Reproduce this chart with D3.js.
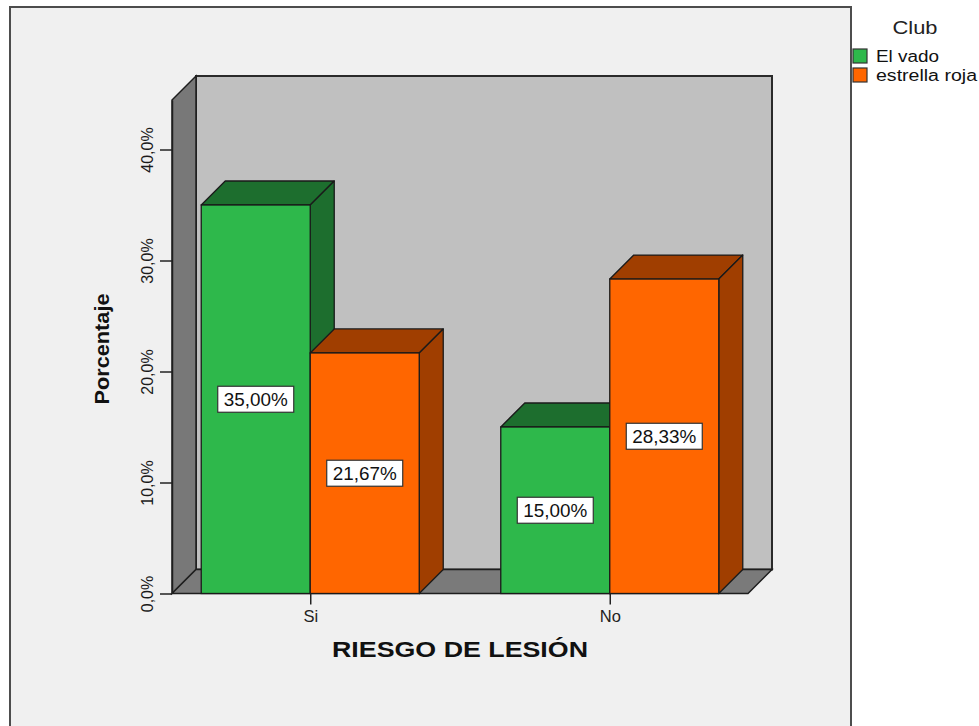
<!DOCTYPE html>
<html>
<head>
<meta charset="utf-8">
<script src="https://cdn.jsdelivr.net/npm/d3@7"></script>
<style>
  html, body { margin: 0; padding: 0; background: #ffffff; }
  svg { display: block; font-family: "Liberation Sans", Arial, sans-serif; }
</style>
</head>
<body>
<svg id="chart" width="979" height="726"></svg>
<script>
const categories = ["Si", "No"];
const seriesNames = ["El vado", "estrella roja"];
const elVado = [35.00, 15.00];
const estrellaRoja = [21.67, 28.33];
const yTicks = [0, 10, 20, 30, 40];
const xTitle = "RIESGO DE LESIÓN";
const yTitle = "Porcentaje";
const legendTitle = "Club";

const seriesValues = [elVado, estrellaRoja];
const frontColors = ["#2eb84b", "#ff6600"];
const darkColors = ["#1d6e2e", "#a03e00"];

const svg = d3.select("#chart");
const D = 24; // depth offset

// frame
svg.append("rect").attr("x", 10).attr("y", 7).attr("width", 841).attr("height", 740)
  .attr("fill", "#f0f0f0").attr("stroke", "#4d4d4d").attr("stroke-width", 2);

const y = d3.scaleLinear().domain([0, 44.46]).range([593.5, 100]);
const x = d3.scalePoint().domain(categories).range([172, 748]).padding(0.4615);
const xs = d3.scaleBand().domain(seriesNames).range([-109, 109]);

const x0 = 172, x1 = 748, yb = y(0), yt = y(44.46);

// back wall
svg.append("rect").attr("x", x0 + D).attr("y", yt - D).attr("width", x1 - x0).attr("height", yb - yt)
  .attr("fill", "#c0c0c0").attr("stroke", "#2a2a2a").attr("stroke-width", 2);
// left wall
svg.append("polygon")
  .attr("points", [[x0, yb], [x0, yt], [x0 + D, yt - D], [x0 + D, yb - D]].map(p => p.join(",")).join(" "))
  .attr("fill", "#787878").attr("stroke", "#1e1e1e").attr("stroke-width", 1.5);
// floor
svg.append("polygon")
  .attr("points", [[x0, yb], [x1, yb], [x1 + D, yb - D], [x0 + D, yb - D]].map(p => p.join(",")).join(" "))
  .attr("fill", "#7a7a7a").attr("stroke", "#1e1e1e").attr("stroke-width", 1.5);

// bars
const bars = svg.append("g");
categories.forEach((c, ci) => {
  seriesNames.forEach((s, si) => {
    const v = seriesValues[si][ci];
    const bx = x(c) + xs(s), bw = xs.bandwidth();
    const top = y(v);
    const g = bars.append("g");
    g.append("polygon")
      .attr("points", [[bx, top], [bx + D, top - D], [bx + bw + D, top - D], [bx + bw, top]].map(p => p.join(",")).join(" "))
      .attr("fill", darkColors[si]).attr("stroke", "#1a1a1a").attr("stroke-width", 1.3).attr("stroke-linejoin", "round");
    g.append("polygon")
      .attr("points", [[bx + bw, top], [bx + bw + D, top - D], [bx + bw + D, yb - D], [bx + bw, yb]].map(p => p.join(",")).join(" "))
      .attr("fill", darkColors[si]).attr("stroke", "#1a1a1a").attr("stroke-width", 1.3).attr("stroke-linejoin", "round");
    g.append("rect").attr("x", bx).attr("y", top).attr("width", bw).attr("height", yb - top)
      .attr("fill", frontColors[si]).attr("stroke", "#1a1a1a").attr("stroke-width", 1.3);
  });
});

// value labels
categories.forEach((c, ci) => {
  seriesNames.forEach((s, si) => {
    const v = seriesValues[si][ci];
    const cx = x(c) + xs(s) + xs.bandwidth() / 2;
    const cy = (y(v) + yb) / 2;
    svg.append("rect").attr("x", cx - 38).attr("y", cy - 13).attr("width", 76).attr("height", 26)
      .attr("fill", "#ffffff").attr("stroke", "#333").attr("stroke-width", 1.2);
    svg.append("text").attr("x", cx).attr("y", cy + 6.5).attr("text-anchor", "middle")
      .attr("font-size", 17.5).attr("fill", "#111")
      .attr("textLength", 64).attr("lengthAdjust", "spacingAndGlyphs")
      .text(v.toFixed(2).replace(".", ",") + "%");
  });
});

// y axis
const yAxis = svg.append("g").attr("transform", `translate(${x0},0)`)
  .call(d3.axisLeft(y).tickValues(yTicks).tickSize(12).tickSizeOuter(0)
    .tickFormat(d => d.toFixed(1).replace(".", ",") + "%"));
yAxis.select(".domain").attr("stroke", "#1e1e1e").attr("stroke-width", 1.5);
yAxis.selectAll(".tick line").attr("stroke", "#222").attr("stroke-width", 1.5);
yAxis.selectAll(".tick text")
  .attr("transform", "rotate(-90)").attr("x", 0).attr("y", -19).attr("dy", 0)
  .attr("text-anchor", "middle").attr("font-size", 16).attr("fill", "#1a1a1a")
  .attr("font-family", "'Liberation Sans', Arial, sans-serif");

// x axis
const xAxis = svg.append("g").attr("transform", `translate(0,${yb})`)
  .call(d3.axisBottom(x).tickSize(11).tickSizeOuter(0));
xAxis.select(".domain").remove();
xAxis.selectAll(".tick line").attr("stroke", "#222").attr("stroke-width", 1.5);
xAxis.selectAll(".tick text").attr("font-size", 16.5).attr("fill", "#222").attr("y", 17)
  .attr("font-family", "'Liberation Sans', Arial, sans-serif");

// titles
svg.append("text").attr("x", 460).attr("y", 657).attr("text-anchor", "middle")
  .attr("font-size", 22).attr("font-weight", "bold").attr("fill", "#111")
  .attr("textLength", 256).attr("lengthAdjust", "spacingAndGlyphs").text(xTitle);
svg.append("text").attr("transform", "translate(109,349) rotate(-90)").attr("text-anchor", "middle")
  .attr("font-size", 20).attr("font-weight", "bold").attr("fill", "#111")
  .attr("textLength", 111).attr("lengthAdjust", "spacingAndGlyphs").text(yTitle);

// legend
svg.append("text").attr("x", 915).attr("y", 34).attr("text-anchor", "middle")
  .attr("font-size", 18).attr("fill", "#222")
  .attr("textLength", 45).attr("lengthAdjust", "spacingAndGlyphs").text(legendTitle);
const legendLengths = [63, 101];
seriesNames.forEach((s, i) => {
  const ly = 49 + i * 19;
  svg.append("rect").attr("x", 853).attr("y", ly).attr("width", 14).attr("height", 14)
    .attr("fill", frontColors[i]).attr("stroke", "#333").attr("stroke-width", 1.2);
  svg.append("text").attr("x", 876).attr("y", ly + 12.5).attr("font-size", 16).attr("fill", "#111")
    .attr("textLength", legendLengths[i]).attr("lengthAdjust", "spacingAndGlyphs").text(s);
});
</script>
</body>
</html>
